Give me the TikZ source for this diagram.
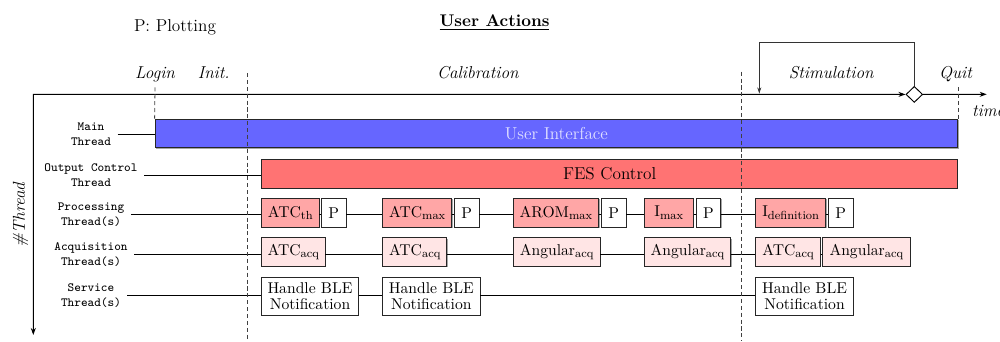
\documentclass[tikz,border=0pt]{standalone}
\usepackage{fontspec}
\usetikzlibrary{shapes.geometric,shadows,arrows.meta}
\newcommand\mylblfont{\fontsize{8}{9.5}\selectfont\ttfamily}
\newcommand\myboxfont{\fontsize{10}{9.6}\selectfont}
\newcommand\mybigfont{\fontsize{11}{13.6}\selectfont}
\newcommand\myphasefont{\fontsize{11}{13.6}\selectfont\itshape}
\newcommand\myheadfont{\fontsize{10.8}{13}\selectfont\bfseries}
\newcommand\mysub[1]{\raisebox{-1.6pt}{\fontsize{7.5}{8}\selectfont #1}}
\begin{document}
\begin{tikzpicture}[x=0.639pt,y=-0.639pt,
  sz/.style 2 args={minimum width=#1*0.639pt, minimum height=#2*0.639pt},
  box/.style={draw=black!85, line width=0.5pt, inner sep=1pt, align=center, font=\myboxfont,
    drop shadow={shadow xshift=0.6pt, shadow yshift=-0.6pt, fill=black!50, opacity=0.7}},
  uibox/.style={box, fill=blue!60, text=white!88!blue, font=\mybigfont},
  fesbox/.style={box, fill=red!55, font=\mybigfont},
  proc/.style={box, fill=red!35},
  acq/.style={box, fill=red!10},
  plotbox/.style={box, fill=white},
  svc/.style={box, fill=white},
  tlabel/.style={align=center, font=\mylblfont, inner sep=4pt},
  conn/.style={line width=0.5pt},
  axis/.style={semithick, {Stealth[length=4.5pt,width=3.2pt]}-{Stealth[length=4.5pt,width=3.2pt]}},
  axisend/.style={semithick, -{Stealth[length=4.5pt,width=3.2pt]}},
  loopline/.style={line width=0.5pt, black!80, -{Stealth[length=4pt,width=2.6pt]}},
  phase/.style={font=\myphasefont, anchor=base},
  sepline/.style={dash pattern=on 2.6pt off 1.8pt, line width=0.5pt, black!75}]
\useasboundingbox (0,0) rectangle (1000,341);

% headings
\node[font=\mybigfont, anchor=base] (legend) at (175,31.5) {P: Plotting};
\node[font=\myheadfont, anchor=base] (title) at (494.5,26.7) {\underline{User Actions}};

% phase labels
\node[phase] (login) at (155,78.3) {Login};
\node[phase] (init) at (213.7,78.3) {Init.};
\node[phase] (calib) at (477.8,78.3) {Calibration};
\node[phase] (stim) at (831.2,78.3) {Stimulation};
\node[phase] (quit) at (955.5,78.3) {Quit};
\node[font=\myphasefont, anchor=base west, inner sep=0] (timelbl) at (971.7,116) {time};
\node[font=\myphasefont, rotate=90] (threadlbl) at (20.5,215) {\#Thread};

% axes
\coordinate (o) at (33.3,94.3);
\coordinate (tx) at (986.7,94.3);
\coordinate (ty) at (33.3,335);
\node[diamond, draw, fill=white, semithick, inner sep=0, sz={16.7}{16}] (dia) at (914.3,94.4) {};
\draw[axis] (ty) -- (o) -- (dia.west);
\draw[axisend] (dia.east) -- (tx);
\coordinate (lt) at (759.3,42.7);
\coordinate (lb) at (759.3,93.6);
\draw[loopline] (dia.north) |- (lt) -- (lb);

% thread labels
\node[tlabel] (lmain) at (91,134) {Main\\Thread};
\node[tlabel] (lout) at (91,175) {Output Control\\Thread};
\node[tlabel] (lproc) at (91,214.3) {Processing\\Thread(s)};
\node[tlabel] (lacq) at (91,254.3) {Acquisition\\Thread(s)};
\node[tlabel] (lsvc) at (91,295.3) {Service\\Thread(s)};

% bars
\node[uibox, sz={802.7}{28.7}] (ui) at (556.35,133.35) {User Interface};
\node[fesbox, sz={695.8}{29}] (fes) at (609.6,173.8) {FES Control};

% processing
\node[proc, sz={57.3}{29}] (atcth) at (290.35,212.8) {ATC\mysub{th}};
\node[plotbox, sz={24.7}{29}] (p1) at (333.65,212.8) {P};
\node[proc, sz={69}{29}] (atcmax) at (417.2,212.8) {ATC\mysub{max}};
\node[plotbox, sz={24.7}{29}] (p2) at (466.65,212.8) {P};
\node[proc, sz={85.4}{29}] (arom) at (556,212.8) {AROM\mysub{max}};
\node[plotbox, sz={24.7}{29}] (p3) at (613.65,212.8) {P};
\node[proc, sz={49}{29}] (imax) at (668.8,212.8) {I\mysub{max}};
\node[plotbox, sz={24.7}{29}] (p4) at (708.35,212.8) {P};
\node[proc, sz={70}{29}] (idef) at (790.7,212.8) {I\mysub{definition}};
\node[plotbox, sz={25}{29}] (p5) at (840.8,212.8) {P};

% acquisition
\node[acq, sz={63.3}{28.6}] (aq1) at (293.35,252) {ATC\mysub{acq}};
\node[acq, sz={64}{28.6}] (aq2) at (414.7,252) {ATC\mysub{acq}};
\node[acq, sz={86.7}{28.6}] (ang1) at (556.65,252) {Angular\mysub{acq}};
\node[acq, sz={86.4}{28.6}] (ang2) at (687.5,252) {Angular\mysub{acq}};
\node[acq, sz={64.6}{28.6}] (aq3) at (788,252) {ATC\mysub{acq}};
\node[acq, sz={87.3}{28.6}] (ang3) at (866.35,252) {Angular\mysub{acq}};

% service
\node[svc, sz={96.6}{37.7}] (ble1) at (310,296.15) {Handle BLE\\Notification};
\node[svc, sz={97.3}{37.7}] (ble2) at (431.35,296.15) {Handle BLE\\Notification};
\node[svc, sz={97.6}{37.7}] (ble3) at (804.5,296.15) {Handle BLE\\Notification};

% connectors
\draw[conn] (lmain.east) -- (lmain.east -| ui.west);
\draw[conn] (lout.east) -- (lout.east -| fes.west);
\draw[conn] (lproc.east) -- (lproc.east -| atcth.west);
\foreach \a/\b in {atcth/p1,p1/atcmax,atcmax/p2,p2/arom,arom/p3,p3/imax,imax/p4,p4/idef,idef/p5}
  \draw[conn] (\a.east |- lproc) -- (\b.west |- lproc);
\draw[conn] (lacq.east) -- (lacq.east -| aq1.west);
\foreach \a/\b in {aq1/aq2,aq2/ang1,ang1/ang2,ang2/aq3,aq3/ang3}
  \draw[conn] (\a.east |- lacq) -- (\b.west |- lacq);
\draw[conn] (lsvc.east) -- (lsvc.east -| ble1.west);
\foreach \a/\b in {ble1/ble2,ble2/ble3}
  \draw[conn] (\a.east |- lsvc) -- (\b.west |- lsvc);

% phase separators
\draw[sepline] (login.south) -- (ui.north west);
\draw[sepline] (quit.south -| ui.north east) -- (ui.north east);
\coordinate (s1a) at (247,73);
\coordinate (s1b) at (247,341);
\coordinate (s2a) at (741.7,71.7);
\coordinate (s2b) at (741.7,341);
\draw[sepline] (s1a) -- (s1b);
\draw[sepline] (s2a) -- (s2b);
\end{tikzpicture}
\end{document}
